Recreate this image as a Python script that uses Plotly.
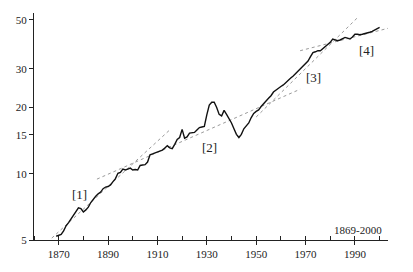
import math
import plotly.graph_objects as go

years = list(range(1869, 2001))
values = [
    5.2, 5.25, 5.3, 5.5, 5.8, 6.0, 6.25, 6.5, 6.7, 7.0,      # 1869-1878
    6.95, 6.7, 6.85, 7.05, 7.4, 7.7, 7.9, 8.1, 8.25, 8.55,   # 1879-1888
    8.7, 8.75, 8.9, 9.2, 9.5, 10.05, 10.15, 10.5, 10.4, 10.5, # 1889-1898
    10.6, 10.4, 10.45, 10.4, 10.9, 10.95, 11.0, 11.3, 12.2, 12.3, # 1899-1908
    12.4, 12.5, 12.7, 12.8, 13.1, 13.4, 13.1, 13.0, 13.6, 14.3, # 1909-1918
    14.6, 15.9, 14.5, 14.7, 15.3, 15.3, 15.4, 15.8, 16.2, 16.3, # 1919-1928
    16.4, 18.5, 20.5, 21.1, 21.1, 20.0, 18.6, 18.3, 19.4, 18.6, # 1929-1938
    17.9, 17.0, 16.0, 15.1, 14.6, 15.1, 16.0, 16.6, 17.0, 18.0, # 1939-1948
    18.8, 19.2, 19.5, 20.2, 20.9, 21.4, 22.0, 22.6, 23.5, 24.0, # 1949-1958
    24.5, 24.9, 25.3, 26.0, 26.5, 27.2, 27.8, 28.5, 29.2, 30.0, # 1959-1968
    31.0, 31.5, 32.5, 34.0, 35.5, 35.8, 36.2, 36.2, 37.0, 37.8, # 1969-1978
    38.3, 39.5, 40.9, 40.4, 40.2, 40.5, 41.0, 41.6, 41.3, 40.9, # 1979-1988
    41.8, 43.0, 43.0, 42.8, 43.0, 43.2, 43.5, 43.9, 44.3, 45.0, # 1989-1998
    45.9, 46.2,                                                # 1999-2000
]

trend1_years = [1867.2, 1915.1]
trend1_values = [5.1, 15.85]
trend2_years = [1885.5, 1967.8]
trend2_values = [9.45, 24.2]
trend3_years = [1950.0, 1991.4]
trend3_values = [18.1, 51.6]
trend4_years = [1967.8, 2004.2]
trend4_values = [36.2, 46.0]

label_texts = ["[1]", "[2]", "[3]", "[4]"]
label_years = [1878.3, 1931.0, 1973.4, 1994.5]
label_values = [8.05, 13.1, 27.3, 36.2]

period_text = "1869-2000"
period_year = 1991.3
period_value = 5.53

y_tick_vals = [5, 10, 15, 20, 30, 50]
x_tick_vals = [1870, 1890, 1910, 1930, 1950, 1970, 1990]

SERIF = "Liberation Serif"

fig = go.Figure()
for ty, tv in [(trend1_years, trend1_values), (trend2_years, trend2_values),
               (trend3_years, trend3_values), (trend4_years, trend4_values)]:
    fig.add_trace(go.Scatter(x=ty, y=tv, mode="lines",
                             line=dict(color="#9a9a9a", width=1, dash="dot"),
                             hoverinfo="skip", showlegend=False))

fig.add_trace(go.Scatter(x=years, y=values, mode="lines",
                         line=dict(color="#111111", width=1.4),
                         showlegend=False))

# annotations on a log axis are positioned in log10 units
for t, lx, ly in zip(label_texts, label_years, label_values):
    fig.add_annotation(x=lx, y=math.log10(ly), yref="y", xref="x", text=t,
                       showarrow=False,
                       font=dict(family=SERIF, size=13, color="#222"))

fig.add_annotation(x=period_year, y=math.log10(period_value), xref="x", yref="y",
                   text=period_text, showarrow=False,
                   font=dict(family=SERIF, size=11, color="#222"))

fig.update_layout(
    width=413, height=272,
    margin=dict(l=34, r=25, t=13, b=25),
    paper_bgcolor="white", plot_bgcolor="white",
    font=dict(family=SERIF, size=11, color="#222"),
    xaxis=dict(range=[1860, 2003.4], showgrid=False, zeroline=False,
               showline=True, linecolor="#222", linewidth=1,
               tickvals=x_tick_vals, ticktext=[str(v) for v in x_tick_vals],
               ticks="outside", ticklen=4, tickcolor="#222",
               minor=dict(tickvals=list(range(1860, 2001, 10)), ticks="inside",
                          ticklen=4, tickcolor="#222", showgrid=False),
               tickfont=dict(family=SERIF, size=11)),
    yaxis=dict(type="log", range=[math.log10(5), math.log10(53.7)],
               showgrid=False, zeroline=False, showline=True,
               linecolor="#222", linewidth=1,
               tickvals=y_tick_vals, ticktext=[str(v) for v in y_tick_vals],
               ticks="outside", ticklen=4, tickcolor="#222",
               tickfont=dict(family=SERIF, size=11)),
)

fig.write_html("out.html")
